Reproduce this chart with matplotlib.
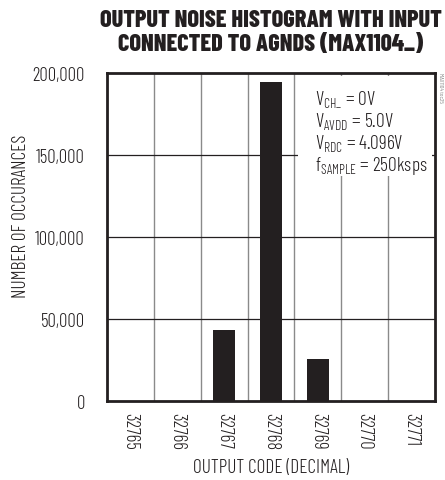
import matplotlib
matplotlib.use("Agg")
import matplotlib.pyplot as plt
from matplotlib.patches import Rectangle
import numpy as np

codes = ["32765", "32766", "32767", "32768", "32769", "32770", "32771"]
counts = [0, 0, 43500, 194500, 25600, 0, 0]
yticks = [0, 50000, 100000, 150000, 200000]
ytick_labels = ["0", "50,000", "100,000", "150,000", "200,000"]
cond_lines = [
    r"$\mathregular{V_{CH\_}}$ = 0V",
    r"$\mathregular{V_{AVDD}}$ = 5.0V",
    r"$\mathregular{V_{RDC}}$ = 4.096V",
    r"$\mathregular{f_{SAMPLE}}$ = 250ksps",
]

FONT = ["Barlow Condensed", "DejaVu Sans"]
plt.rcParams["font.family"] = FONT
plt.rcParams["font.weight"] = 300
plt.rcParams["mathtext.fontset"] = "custom"
plt.rcParams["mathtext.rm"] = "Barlow Condensed:weight=light"
plt.rcParams["mathtext.it"] = "Barlow Condensed:weight=light"

ink = "#231f20"
fig = plt.figure(figsize=(4.45, 4.81), dpi=100)
ax = fig.add_axes([107 / 445, 1 - 402 / 481, 328 / 445, 328 / 481])

x = np.arange(len(codes))
ax.bar(x, counts, width=0.47, color=ink, zorder=3)

ax.set_xlim(-0.5, len(codes) - 0.5)
ax.set_ylim(0, 200000)

# grid: grey verticals between codes, dark horizontals
for b in x[:-1] + 0.5:
    ax.axvline(b, color="#8a8a8a", lw=1.0, zorder=1)
for yv in yticks[1:-1]:
    ax.axhline(yv, color=ink, lw=0.9, zorder=1)

ax.set_xticks(x)
ax.set_xticklabels(codes, rotation=-90, fontsize=13.5, color=ink, fontweight=300)
ax.set_yticks(yticks)
ax.set_yticklabels(ytick_labels, fontsize=13.5, color=ink, fontweight=300)
ax.tick_params(length=0, pad=16, axis="y")
ax.tick_params(length=0, pad=8, axis="x")

for s in ax.spines.values():
    s.set_linewidth(2.0)
    s.set_color(ink)
    s.set_zorder(5)

ax.set_xlabel("OUTPUT CODE (DECIMAL)", fontsize=14, color=ink, labelpad=6, fontweight=300)
ax.set_ylabel("NUMBER OF OCCURANCES", fontsize=14, color=ink, va="center", fontweight=300)
ax.yaxis.set_label_coords(-0.262, 0.567)

# white box behind the conditions
ax.add_patch(Rectangle((0.582, 0.686), 0.409, 0.305, transform=ax.transAxes,
                       facecolor="white", edgecolor="none", zorder=2))
for i, line in enumerate(cond_lines):
    ax.text(315 / 445, 1 - (100 + 22 * i) / 481, line, transform=fig.transFigure,
            fontsize=14, color=ink, va="center", ha="left", zorder=4, fontweight=300)

fig.text(0.5 * (107 + 435) / 445, 1 - 21 / 481, "OUTPUT NOISE HISTOGRAM WITH INPUT",
         ha="center", va="center", fontsize=17.5, fontweight=800, color=ink)
fig.text(0.5 * (107 + 435) / 445, 1 - 45 / 481, "CONNECTED TO AGNDS (MAX1104_)",
         ha="center", va="center", fontsize=17.5, fontweight=800, color=ink)

fig.text(438 / 445, 1 - 73 / 481, "MAX1104 toc25", rotation=-90, ha="left", va="top",
         fontsize=4.5, color="#666666")

fig.savefig("out.png", dpi=100)
